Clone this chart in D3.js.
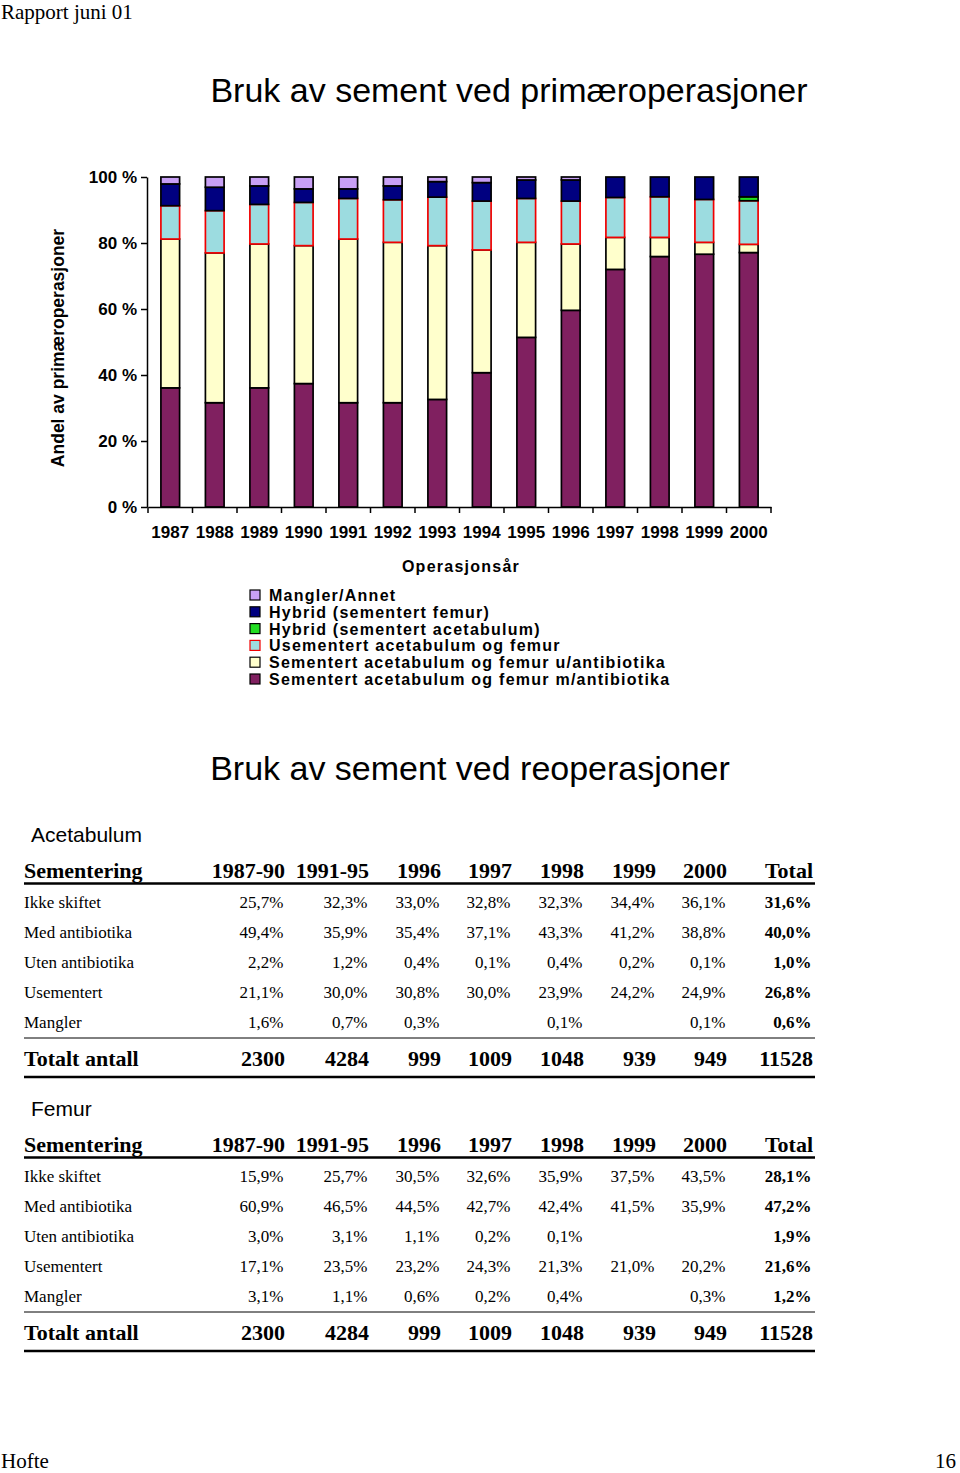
<!DOCTYPE html>
<html>
<head>
<meta charset="utf-8">
<script src="https://cdn.jsdelivr.net/npm/d3@7"></script>
<style>
  body { margin: 0; background: #fff; }
  svg { display: block; }
</style>
</head>
<body>
<script>
// ---------- DATA ----------
const years = ['1987','1988','1989','1990','1991','1992','1993','1994','1995','1996','1997','1998','1999','2000'];
const seriesKeys = ['mAnti','uAnti','usem','hybAcet','hybFem','mangler'];
const seriesNames = [
  'Sementert acetabulum og femur m/antibiotika',
  'Sementert acetabulum og femur u/antibiotika',
  'Usementert acetabulum og femur',
  'Hybrid (sementert acetabulum)',
  'Hybrid (sementert femur)',
  'Mangler/Annet'
];
const mAnti   = [36.1, 31.6, 36.1, 37.4, 31.6, 31.6, 32.6, 40.7, 51.4, 59.6, 72.0, 75.9, 76.6, 77.1];
const uAnti   = [45.1, 45.4, 43.6, 41.8, 49.6, 48.6, 46.6, 37.2, 28.8, 20.1, 9.7, 5.8, 3.6, 2.5];
const usem    = [10.1, 12.8, 12.0, 13.1, 12.3, 12.9, 14.7, 14.8, 13.3, 13.0, 12.1, 12.3, 13.0, 13.2];
const hybAcet = [0, 0, 0, 0, 0, 0, 0, 0, 0, 0, 0, 0, 0, 1.2];
const hybFem  = [6.6, 7.1, 5.6, 4.1, 2.9, 4.2, 4.7, 5.6, 5.6, 6.4, 6.2, 6.0, 6.8, 6.0];
const mangler = [2.1, 3.1, 2.7, 3.6, 3.6, 2.7, 1.4, 1.7, 0.9, 0.9, 0, 0, 0, 0];
const yTicks = [0, 20, 40, 60, 80, 100];

const tableCols = ['1987-90','1991-95','1996','1997','1998','1999','2000','Total'];
const rowLabels = ['Ikke skiftet','Med antibiotika','Uten antibiotika','Usementert','Mangler'];
const acetIkke  = ['25,7%','32,3%','33,0%','32,8%','32,3%','34,4%','36,1%','31,6%'];
const acetMed   = ['49,4%','35,9%','35,4%','37,1%','43,3%','41,2%','38,8%','40,0%'];
const acetUten  = ['2,2%','1,2%','0,4%','0,1%','0,4%','0,2%','0,1%','1,0%'];
const acetUsem  = ['21,1%','30,0%','30,8%','30,0%','23,9%','24,2%','24,9%','26,8%'];
const acetMang  = ['1,6%','0,7%','0,3%','','0,1%','','0,1%','0,6%'];
const femIkke   = ['15,9%','25,7%','30,5%','32,6%','35,9%','37,5%','43,5%','28,1%'];
const femMed    = ['60,9%','46,5%','44,5%','42,7%','42,4%','41,5%','35,9%','47,2%'];
const femUten   = ['3,0%','3,1%','1,1%','0,2%','0,1%','','','1,9%'];
const femUsem   = ['17,1%','23,5%','23,2%','24,3%','21,3%','21,0%','20,2%','21,6%'];
const femMang   = ['3,1%','1,1%','0,6%','0,2%','0,4%','','0,3%','1,2%'];
const totals    = ['2300','4284','999','1009','1048','939','949','11528'];

// ---------- STYLE / LAYOUT ----------
const colors = {
  mAnti: '#802060', uAnti: '#FFFFCC', usem: '#9CDCE0',
  hybAcet: '#22DD22', hybFem: '#000080', mangler: '#C8A0F5'
};
const strokes = { mAnti:'#000', uAnti:'#000', usem:'#F00000', hybAcet:'#000', hybFem:'#000', mangler:'#000' };
const SANS = "'Liberation Sans', Arial, sans-serif";
const SERIF = "'Liberation Serif', 'Times New Roman', serif";
const W = 960, H = 1473;
const colRight = [285, 369, 441, 512, 584, 656, 727, 813];

const svg = d3.select('body').append('svg').attr('width', W).attr('height', H);
svg.append('rect').attr('width', W).attr('height', H).attr('fill', '#fff');

// header / footer
svg.append('text').attr('x', 1).attr('y', 19).attr('font-family', SERIF).attr('font-size', 21).text('Rapport juni 01');
svg.append('text').attr('x', 1).attr('y', 1468).attr('font-family', SERIF).attr('font-size', 21).text('Hofte');
svg.append('text').attr('x', 956).attr('y', 1468).attr('text-anchor', 'end').attr('font-family', SERIF).attr('font-size', 21).text('16');

// titles
svg.append('text').attr('x', 509).attr('y', 102).attr('text-anchor', 'middle')
  .attr('font-family', SANS).attr('font-size', 34).text('Bruk av sement ved primæroperasjoner');
svg.append('text').attr('x', 470).attr('y', 780).attr('text-anchor', 'middle')
  .attr('font-family', SANS).attr('font-size', 34).text('Bruk av sement ved reoperasjoner');

// ---------- CHART ----------
const x = d3.scaleBand().domain(years).range([148, 771]).paddingInner(0.58).paddingOuter(0.29);
const y = d3.scaleLinear().domain([0, 100]).range([507, 177]);

const seriesArrays = { mAnti, uAnti, usem, hybAcet, hybFem, mangler };
const table = years.map((yr, i) => {
  const row = { year: yr };
  seriesKeys.forEach(k => row[k] = seriesArrays[k][i]);
  return row;
});
const stacked = d3.stack().keys(seriesKeys)(table);

const gBars = svg.append('g');
stacked.forEach(layer => {
  gBars.append('g')
    .attr('fill', colors[layer.key])
    .attr('stroke', strokes[layer.key])
    .attr('stroke-width', 1.7)
    .selectAll('rect')
    .data(layer.filter(d => d[1] - d[0] > 0))
    .join('rect')
    .attr('x', d => x(d.data.year))
    .attr('width', x.bandwidth())
    .attr('y', d => y(d[1]))
    .attr('height', d => y(d[0]) - y(d[1]));
});

// Y axis
const yAxis = svg.append('g').attr('transform', 'translate(147,0)')
  .call(d3.axisLeft(y).tickValues(yTicks).tickFormat(d => d + ' %').tickSize(6).tickSizeOuter(0).tickPadding(4));
yAxis.selectAll('text').attr('font-family', SANS).attr('font-size', 17).attr('font-weight', 'bold').attr('fill', '#000');
yAxis.selectAll('line, path').attr('stroke', '#000').attr('stroke-width', 1.5);

// X axis
const xAxis = svg.append('g').attr('transform', 'translate(0,507)')
  .call(d3.axisBottom(x).tickSize(0).tickSizeOuter(0).tickPadding(19));
xAxis.selectAll('text').attr('font-family', SANS).attr('font-size', 17).attr('font-weight', 'bold').attr('fill', '#000');
xAxis.select('path').attr('stroke', '#000').attr('stroke-width', 1.5);
const gap = (x.step() - x.bandwidth()) / 2;
const bounds = years.map(d => x(d) - gap).concat([x(years[years.length - 1]) + x.bandwidth() + gap]);
xAxis.selectAll('line.bnd').data(bounds).join('line').attr('class', 'bnd')
  .attr('x1', d => d).attr('x2', d => d).attr('y1', 0).attr('y2', 6)
  .attr('stroke', '#000').attr('stroke-width', 1.5);

// axis titles
svg.append('text').attr('transform', 'translate(64,348) rotate(-90)').attr('text-anchor', 'middle')
  .attr('font-family', SANS).attr('font-size', 17.5).attr('font-weight', 'bold').text('Andel av primæroperasjoner');
svg.append('text').attr('x', 461).attr('y', 572).attr('text-anchor', 'middle')
  .attr('font-family', SANS).attr('font-size', 16).attr('font-weight', 'bold').attr('letter-spacing', 1.25)
  .text('Operasjonsår');

// legend
const legendKeys = seriesKeys.slice().reverse();
const legendNames = seriesNames.slice().reverse();
const gLeg = svg.append('g');
legendKeys.forEach((k, i) => {
  const cy = 595 + i * 16.8;
  gLeg.append('rect').attr('x', 250).attr('y', cy - 5).attr('width', 10).attr('height', 10)
    .attr('fill', colors[k]).attr('stroke', strokes[k]).attr('stroke-width', 1.2);
  gLeg.append('text').attr('x', 269).attr('y', cy + 6)
    .attr('font-family', SANS).attr('font-size', 16).attr('font-weight', 'bold').attr('letter-spacing', 1.25)
    .text(legendNames[i]);
});

// ---------- TABLES ----------
function drawTable(top, title, rows) {
  const g = svg.append('g');
  g.append('text').attr('x', 31).attr('y', top).attr('font-family', SANS).attr('font-size', 21).text(title);
  const hb = top + 36;
  g.append('text').attr('x', 24).attr('y', hb).attr('font-family', SERIF).attr('font-size', 22).attr('font-weight', 'bold').text('Sementering');
  tableCols.forEach((c, j) => {
    g.append('text').attr('x', colRight[j]).attr('y', hb).attr('text-anchor', 'end')
      .attr('font-family', SERIF).attr('font-size', 22).attr('font-weight', 'bold').text(c);
  });
  g.append('line').attr('x1', 24).attr('x2', 815).attr('y1', hb + 5.5).attr('y2', hb + 5.5).attr('stroke', '#000').attr('stroke-width', 2.5);
  rows.forEach((vals, i) => {
    const by = hb + 29.5 + i * 30;
    g.append('text').attr('x', 24).attr('y', by).attr('font-family', SERIF).attr('font-size', 17).text(rowLabels[i]);
    vals.forEach((v, j) => {
      g.append('text').attr('x', colRight[j] - 1.5).attr('y', by).attr('text-anchor', 'end')
        .attr('font-family', SERIF).attr('font-size', 17)
        .attr('font-weight', j === vals.length - 1 ? 'bold' : 'normal').text(v);
    });
  });
  const ly = hb + 160;
  g.append('line').attr('x1', 24).attr('x2', 815).attr('y1', ly).attr('y2', ly).attr('stroke', '#000').attr('stroke-width', 1);
  const tb = hb + 187.5;
  g.append('text').attr('x', 24).attr('y', tb).attr('font-family', SERIF).attr('font-size', 22).attr('font-weight', 'bold').text('Totalt antall');
  totals.forEach((v, j) => {
    g.append('text').attr('x', colRight[j]).attr('y', tb).attr('text-anchor', 'end')
      .attr('font-family', SERIF).attr('font-size', 22).attr('font-weight', 'bold').text(v);
  });
  g.append('line').attr('x1', 24).attr('x2', 815).attr('y1', tb + 11.5).attr('y2', tb + 11.5).attr('stroke', '#000').attr('stroke-width', 2.5);
}
drawTable(842, 'Acetabulum', [acetIkke, acetMed, acetUten, acetUsem, acetMang]);
drawTable(1116, 'Femur', [femIkke, femMed, femUten, femUsem, femMang]);
</script>
</body>
</html>
